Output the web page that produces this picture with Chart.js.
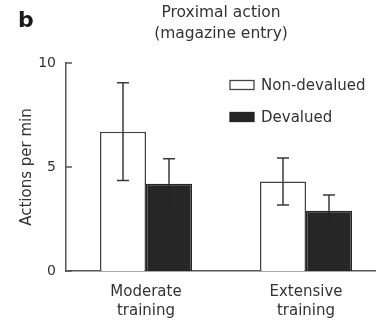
<!DOCTYPE html>
<html>
<head>
<meta charset="utf-8">
<script src="https://cdn.jsdelivr.net/npm/chart.js@4/dist/chart.umd.min.js"></script>
<style>
  html, body { margin: 0; padding: 0; background: #fff; overflow: hidden; width: 376px; height: 323px; }
  canvas { display: block; }
</style>
</head>
<body>
<canvas id="c" width="392" height="323"></canvas>
<script>
// Magazine-entry rate (actions per min) after moderate vs extensive training
const categories = [["Moderate", "training"], ["Extensive", "training"]];
const seriesNames = ["Non-devalued", "Devalued"];
const nonDevalued = [6.7, 4.3];
const nonDevaluedSem = [2.35, 1.13];
const devalued = [4.2, 2.9];
const devaluedSem = [1.2, 0.75];
const yTicks = [0, 5, 10];

const INK = '#333333';
const DARK = '#262626';
const WHISKER = '#3a3a3a';
Chart.defaults.font.family = "'DejaVu Sans', 'Liberation Sans', sans-serif";
Chart.defaults.color = INK;

// Whiskers drawn from each bar's value +/- its SEM; the part inside a bar
// takes the dataset's inner colour so it blends into filled bars
const errorBars = {
  id: 'errorBars',
  afterDatasetsDraw(chart) {
    const ctx = chart.ctx;
    const y = chart.scales.y;
    ctx.save();
    ctx.lineWidth = 1.5;
    chart.data.datasets.forEach((ds, di) => {
      const meta = chart.getDatasetMeta(di);
      meta.data.forEach((bar, i) => {
        const v = ds.data[i], e = ds.sem[i];
        const top = y.getPixelForValue(v + e);
        const mid = y.getPixelForValue(v);
        const bot = y.getPixelForValue(v - e);
        const x = bar.x, cap = 6;
        ctx.strokeStyle = WHISKER;
        ctx.beginPath();
        ctx.moveTo(x, top); ctx.lineTo(x, mid);
        ctx.moveTo(x - cap, top); ctx.lineTo(x + cap, top);
        ctx.stroke();
        ctx.strokeStyle = ds.whiskerInside;
        ctx.beginPath();
        ctx.moveTo(x, mid); ctx.lineTo(x, bot);
        ctx.moveTo(x - cap, bot); ctx.lineTo(x + cap, bot);
        ctx.stroke();
      });
    });
    ctx.restore();
  }
};

// Inward tick marks on the value axis
const innerTicks = {
  id: 'innerTicks',
  afterDraw(chart) {
    const ctx = chart.ctx;
    const y = chart.scales.y;
    const x0 = chart.chartArea.left;
    ctx.save();
    ctx.strokeStyle = '#555555';
    ctx.lineWidth = 1.5;
    y.ticks.forEach(t => {
      const py = y.getPixelForValue(t.value);
      ctx.beginPath();
      ctx.moveTo(x0, py); ctx.lineTo(x0 + 6, py);
      ctx.stroke();
    });
    ctx.restore();
  }
};

// Panel letter, two-line heading and stacked legend
const annotations = {
  id: 'annotations',
  afterDraw(chart) {
    const ctx = chart.ctx;
    ctx.save();
    ctx.fillStyle = '#1a1a1a';
    ctx.textBaseline = 'alphabetic';
    ctx.textAlign = 'left';
    ctx.font = "bold 22px 'DejaVu Sans', sans-serif";
    ctx.fillText('b', 18, 27);

    ctx.fillStyle = INK;
    ctx.textAlign = 'center';
    ctx.font = "15.5px 'DejaVu Sans', sans-serif";
    ctx.fillText('Proximal action', 221, 17);
    ctx.fillText('(magazine entry)', 221, 37.5);

    ctx.textAlign = 'left';
    ctx.textBaseline = 'middle';
    ctx.font = "15px 'DejaVu Sans', sans-serif";
    const rows = [85, 117];
    chart.data.datasets.forEach((ds, i) => {
      const cy = rows[i];
      ctx.fillStyle = ds.backgroundColor;
      ctx.fillRect(230, cy - 4.5, 24, 9);
      ctx.strokeStyle = ds.borderColor;
      ctx.lineWidth = 1.3;
      ctx.strokeRect(230, cy - 4.5, 24, 9);
      ctx.fillStyle = INK;
      ctx.fillText(ds.label, 261, cy + 1);
    });
    ctx.restore();
  }
};

new Chart(document.getElementById('c'), {
  type: 'bar',
  data: {
    labels: categories,
    datasets: [
      {
        label: seriesNames[0],
        data: nonDevalued,
        sem: nonDevaluedSem,
        whiskerInside: WHISKER,
        backgroundColor: '#ffffff',
        borderColor: '#444444',
        borderWidth: 1.5
      },
      {
        label: seriesNames[1],
        data: devalued,
        sem: devaluedSem,
        whiskerInside: DARK,
        backgroundColor: DARK,
        borderColor: DARK,
        borderWidth: 1.5
      }
    ]
  },
  options: {
    responsive: false,
    devicePixelRatio: 1,
    animation: false,
    layout: { padding: { left: 0, right: 6, top: 63, bottom: 0 } },
    datasets: { bar: { categoryPercentage: 0.575, barPercentage: 1.0 } },
    plugins: {
      legend: { display: false },
      title: { display: false },
      tooltip: { enabled: false }
    },
    scales: {
      x: {
        grid: { display: false, drawTicks: false },
        border: { display: true, color: '#555555', width: 1.5 },
        ticks: {
          padding: 12,
          font: { size: 15, lineHeight: 1.27 },
          color: INK
        },
        afterFit(s) { s.height = 52; }
      },
      y: {
        min: 0,
        max: 10,
        grid: { display: false, drawTicks: false },
        border: { display: true, color: '#555555', width: 1.5 },
        afterBuildTicks(s) { s.ticks = yTicks.map(v => ({ value: v })); },
        ticks: {
          padding: 10,
          font: { size: 14 },
          color: INK
        },
        title: {
          display: true,
          text: 'Actions per min',
          font: { size: 15 },
          color: INK,
          padding: { top: 18, bottom: 0 }
        },
        afterFit(s) { s.width = 66; }
      }
    }
  },
  plugins: [errorBars, innerTicks, annotations]
});
</script>
</body>
</html>
